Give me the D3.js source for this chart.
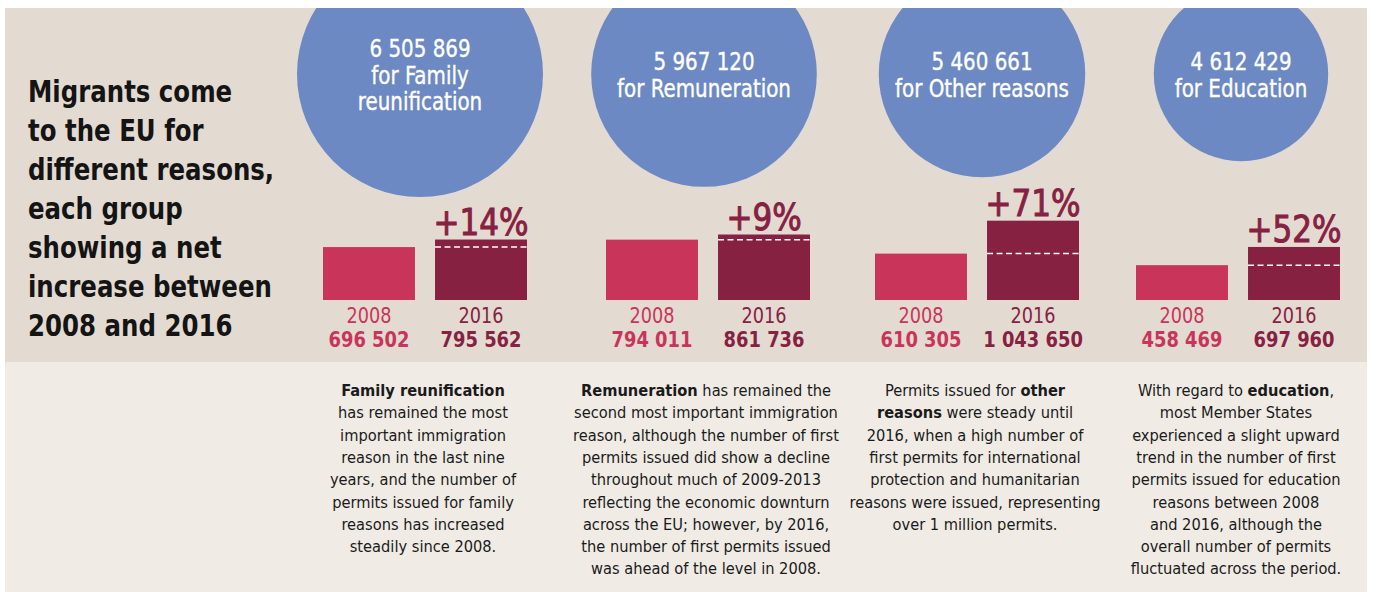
<!DOCTYPE html>
<html>
<head>
<meta charset="utf-8">
<script src="https://cdn.jsdelivr.net/npm/d3@7"></script>
<style>
  html, body { margin: 0; padding: 0; background: #fff; }
  svg { display: block; }
</style>
</head>
<body>
<div id="chart"></div>
<script>
// migration reasons infographic - totals as circles, 2008 vs 2016 as paired bars
var categories = ["Family reunification", "Remuneration", "Other reasons", "Education"];
var totals = [6505869, 5967120, 5460661, 4612429];
var circleLines = [["for Family", "reunification"], ["for Remuneration"], ["for Other reasons"], ["for Education"]];
var years = ["2008", "2016"];
var v2008 = [696502, 794011, 610305, 458469];
var v2016 = [795562, 861736, 1043650, 697960];
var titleLines = ["Migrants come", "to the EU for", "different reasons,", "each group", "showing a net", "increase between", "2008 and 2016"];
// ** marks bold runs
var notes = [
  ["**Family reunification**", "has remained the most", "important immigration", "reason in the last nine",
   "years, and the number of", "permits issued for family", "reasons has increased", "steadily since 2008."],
  ["**Remuneration** has remained the", "second most important immigration", "reason, although the number of first",
   "permits issued did show a decline", "throughout much of 2009-2013", "reflecting the economic downturn",
   "across the EU; however, by 2016,", "the number of first permits issued", "was ahead of the level in 2008."],
  ["Permits issued for **other**", "**reasons** were steady until", "2016, when a high number of",
   "first permits for international", "protection and humanitarian", "reasons were issued, representing",
   "over 1 million permits."],
  ["With regard to **education**,", "most Member States", "experienced a slight upward",
   "trend in the number of first", "permits issued for education", "reasons between 2008",
   "and 2016, although the", "overall number of permits", "fluctuated across the period."]
];

var W = 1376, H = 592;
var BG_TOP = "#e3dbd1", BG_BOT = "#f0ebe5", BLUE = "#6d89c3", PINK = "#c9355a", MAROON = "#862142", INK = "#141414";
var FONT = "'Liberation Sans Narrow','DejaVu Sans Condensed','Liberation Sans',sans-serif";
var panel = { x: 5, y: 8, w: 1362, split: 362, bottom: 592 };

var svg = d3.select("#chart").append("svg").attr("width", W).attr("height", H)
  .attr("font-family", FONT);

// horizontal squeeze so the installed font matches the narrow original
function squeeze(sample, size, weight, target) {
  var t = svg.append("text").attr("font-size", size).attr("font-weight", weight).text(sample);
  var len = t.node().getComputedTextLength();
  t.remove();
  return target / len;
}
var sxTitle = squeeze("increase between", 30, "bold", 244);
var sxCircle = squeeze("for Remuneration", 24, "normal", 174);
var sxBody = squeeze("reason, although the number of first", 16, "normal", 266);
var sxYear = squeeze("2008", 22, "normal", 45);
var sxVal = squeeze("696 502", 22, "bold", 81);
var sxPct = squeeze("+14%", 38, "normal", 95);

function label(g, x, y, sx, txt) {
  return g.append("text").attr("transform", "translate(" + x + "," + y + ") scale(" + sx + ",1)").text(txt);
}

// panels
svg.append("rect").attr("x", panel.x).attr("y", panel.y).attr("width", panel.w).attr("height", panel.split - panel.y).attr("fill", BG_TOP);
svg.append("rect").attr("x", panel.x).attr("y", panel.split).attr("width", panel.w).attr("height", panel.bottom - panel.split).attr("fill", BG_BOT);
svg.append("clipPath").attr("id", "topclip").append("rect")
  .attr("x", panel.x).attr("y", panel.y).attr("width", panel.w).attr("height", panel.split - panel.y);

// scales
var cx = d3.scaleOrdinal().domain(categories).range([420, 704, 982, 1241]);   // circles
var gx = d3.scaleOrdinal().domain(categories).range([425, 708, 977, 1238]);   // bar pairs + notes
var r = d3.scaleLinear().domain([0, d3.max(totals)]).range([0, 123]);
var bx = d3.scaleBand().domain(years).range([-102, 102]).paddingInner(0.179);
var y = d3.scaleLinear().domain([0, 1e6]).range([300, 224]);
var CY = 74, fmt = function (v) { return d3.format(",")(v).replace(/,/g, " "); };

// title
var tg = svg.append("g").attr("font-weight", "bold").attr("font-size", 30).attr("fill", INK);
titleLines.forEach(function (s, i) { label(tg, 28, 101.7 + i * 39, sxTitle, s); });

// circles
var cg = svg.append("g").attr("clip-path", "url(#topclip)");
categories.forEach(function (c, i) {
  cg.append("circle").attr("cx", cx(c)).attr("cy", CY).attr("r", r(totals[i])).attr("fill", BLUE);
  var lines = [fmt(totals[i])].concat(circleLines[i]), n = lines.length;
  var lg = svg.append("g").attr("fill", "#fff").attr("font-size", 24).attr("text-anchor", "middle")
    .attr("stroke", "#fff").attr("stroke-width", 0.35);
  lines.forEach(function (s, j) { label(lg, cx(c), CY + 9.5 + (j - (n - 1) / 2) * 26.5, sxCircle, s); });
});

// bars
categories.forEach(function (c, i) {
  var g = svg.append("g").attr("transform", "translate(" + gx(c) + ",0)");
  var vals = [v2008[i], v2016[i]], cols = [PINK, MAROON];
  years.forEach(function (yr, k) {
    var x0 = bx(yr), mid = x0 + bx.bandwidth() / 2;
    g.append("rect").attr("x", x0).attr("y", y(vals[k])).attr("width", bx.bandwidth())
      .attr("height", y(0) - y(vals[k])).attr("fill", cols[k]);
    label(g, mid, 322.7, sxYear, yr).attr("text-anchor", "middle").attr("font-size", 22)
      .attr("font-weight", 300).attr("fill", cols[k]);
    label(g, mid, 346.7, sxVal, fmt(vals[k])).attr("text-anchor", "middle").attr("font-size", 22)
      .attr("font-weight", "bold").attr("fill", cols[k]);
  });
  // 2008 level on the 2016 bar
  g.append("line").attr("x1", bx("2016")).attr("x2", bx("2016") + bx.bandwidth())
    .attr("y1", y(v2008[i])).attr("y2", y(v2008[i]))
    .attr("stroke", "#fff").attr("stroke-width", 1.5).attr("stroke-dasharray", "6,3.5");
  var pct = Math.round((v2016[i] / v2008[i] - 1) * 100);
  label(g, bx("2016") + bx.bandwidth() / 2, y(v2016[i]) - 5, sxPct, "+" + pct + "%")
    .attr("text-anchor", "middle").attr("font-size", 38).attr("fill", MAROON)
    .attr("stroke", MAROON).attr("stroke-width", 1);
});

// notes under each column
categories.forEach(function (c, i) {
  var g = svg.append("g").attr("font-size", 16).attr("fill", "#1a1a1a").attr("text-anchor", "middle");
  notes[i].forEach(function (line, j) {
    var t = label(g, gx(c) - 2, 396 + j * 22.3, sxBody, null);
    line.split("**").forEach(function (part, p) {
      if (!part) return;
      t.append("tspan").attr("font-weight", p % 2 ? "bold" : "normal").text(part);
    });
  });
});
</script>
</body>
</html>
